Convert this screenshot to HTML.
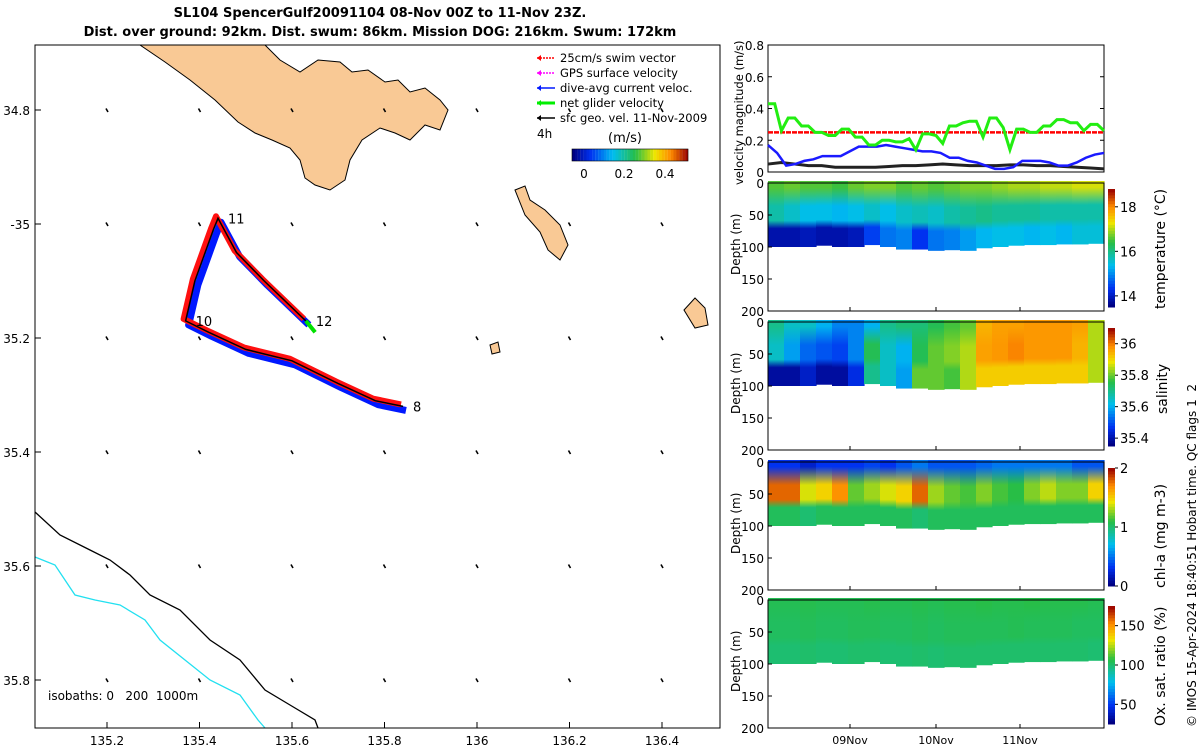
<!DOCTYPE html>
<html><head><meta charset="utf-8"><style>
body{margin:0;background:#fff;width:1200px;height:750px;overflow:hidden;font-family:"Liberation Sans","DejaVu Sans",sans-serif}
svg text{font-family:"DejaVu Sans","Liberation Sans",sans-serif;white-space:pre}
</style></head><body>
<svg id="fig" width="1200" height="750" xmlns="http://www.w3.org/2000/svg">
<text x="380" y="17" font-size="13" font-weight="bold" text-anchor="middle">SL104 SpencerGulf20091104 08-Nov 00Z to 11-Nov 23Z.</text>
<text x="380" y="36" font-size="13" font-weight="bold" text-anchor="middle">Dist. over ground: 92km. Dist. swum: 86km. Mission DOG: 216km. Swum: 172km</text>
<g id="map"></g>
<g id="vel"></g>
<g id="sec"></g>
<text transform="translate(1196,727) rotate(-90)" font-size="12">© IMOS 15-Apr-2024 18:40:51 Hobart time. QC flags 1  2</text>
</svg>
<script>
const NS="http://www.w3.org/2000/svg";
function el(p,t,a){const e=document.createElementNS(NS,t);for(const k in a)e.setAttribute(k,a[k]);p.appendChild(e);return e;}
function tx(p,x,y,s,o){const e=el(p,'text',Object.assign({x:x,y:y,'font-size':12},o||{}));e.textContent=s;return e;}
const CM=[[0,0,0,130],[0.15,0,50,240],[0.35,0,190,240],[0.55,40,190,70],[0.72,240,230,0],[0.86,255,140,0],[1,160,10,0]];
function cmap(v){v=Math.max(0,Math.min(1,v));for(let i=1;i<CM.length;i++){if(v<=CM[i][0]){const a=CM[i-1],b=CM[i],f=(v-a[0])/(b[0]-a[0]);return `rgb(${(a[1]+f*(b[1]-a[1]))|0},${(a[2]+f*(b[2]-a[2]))|0},${(a[3]+f*(b[3]-a[3]))|0})`;}}return 'rgb(160,10,0)';}

/* ---------- MAP ---------- */
const lonTicks=[135.2,135.4,135.6,135.8,136,136.2,136.4];
const latTicks=[-34.8,-35,-35.2,-35.4,-35.6,-35.8];
const latLabels=["34.8","-35","35.2","35.4","35.6","35.8"];
const track=[[135.84,-35.32],[135.78,-35.31],[135.7,-35.28],[135.6,-35.24],[135.5,-35.22],[135.42,-35.19],[135.37,-35.17],[135.39,-35.1],[135.43,-35.01],[135.44,-34.99],[135.48,-35.05],[135.54,-35.1],[135.63,-35.17]];
const trackLabels=[["8",135.84,-35.32],["11",135.44,-34.99],["12",135.63,-35.17],["10",135.37,-35.17]];
const mx=l=>107+(l-135.2)/0.2*92.5, my=l=>110+(-l-34.8)/0.2*114;
const map=document.getElementById('map');
el(map,'rect',{x:35,y:45,width:685,height:683,fill:'#fff',stroke:'none'});
el(map,'path',{d:'M140,45 L265,45 L280,60 L300,72 L318,60 L340,62 L352,72 L368,70 L385,82 L398,80 L410,92 L425,88 L440,100 L448,110 L440,130 L425,125 L410,140 L395,133 L380,128 L362,140 L350,160 L345,180 L330,190 L315,185 L305,178 L300,160 L290,148 L272,140 L255,133 L238,122 L215,100 L190,80 L165,62 Z',fill:'#f9c995',stroke:'#000','stroke-width':1,});
el(map,'path',{d:'M515,190 L525,186 L530,200 L545,210 L560,225 L568,245 L560,260 L548,250 L540,232 L525,215 Z',fill:'#f9c995',stroke:'#000','stroke-width':1,});
el(map,'path',{d:'M684,310 L695,298 L705,308 L708,325 L695,328 Z',fill:'#f9c995',stroke:'#000','stroke-width':1,});
el(map,'path',{d:'M490,345 L498,342 L500,352 L492,354 Z',fill:'#f9c995',stroke:'#000','stroke-width':1});
el(map,'path',{d:'M35,512 L60,535 L90,550 L110,560 L130,575 L150,595 L180,610 L210,640 L240,660 L265,690 L290,705 L315,720 L318,728',fill:'none',stroke:'#000','stroke-width':1.3,});
el(map,'path',{d:'M35,557 L55,565 L75,595 L95,600 L120,605 L145,620 L160,640 L185,660 L210,680 L240,695 L258,720 L265,728',fill:'none',stroke:'#22e0f0','stroke-width':1.3,});
lonTicks.forEach(lo=>latTicks.forEach(la=>{const q=el(map,'line',{x1:mx(lo)-1,y1:my(la)-1.5,x2:mx(lo)+1,y2:my(la)+2,stroke:'#000','stroke-width':1.6});}));
const tp=track.map(p=>mx(p[0])+','+my(p[1])).join(' ');
el(map,'polyline',{points:track.map(p=>(mx(p[0])+3)+','+(my(p[1])+4)).join(' '),fill:'none',stroke:'#0018ff','stroke-width':7,'stroke-linejoin':'round',});
el(map,'polyline',{points:track.map(p=>(mx(p[0])-2)+','+(my(p[1])-2)).join(' '),fill:'none',stroke:'#ff1010','stroke-width':6,'stroke-linejoin':'round',});
el(map,'polyline',{points:tp,fill:'none',stroke:'#000','stroke-width':1.5,});
el(map,'line',{x1:mx(135.63),y1:my(-35.17),x2:mx(135.65),y2:my(-35.19),stroke:'#00e000','stroke-width':4});
trackLabels.forEach(t=>tx(map,mx(t[1])+10,my(t[2])+5,t[0],{'font-size':13}));
el(map,'rect',{x:35,y:45,width:685,height:683,fill:'none',stroke:'#000','stroke-width':1,});
lonTicks.forEach(l=>{el(map,'line',{x1:mx(l),y1:728,x2:mx(l),y2:722,stroke:'#000'});tx(map,mx(l),745,String(l),{'text-anchor':'middle'});});
latTicks.forEach((l,i)=>{el(map,'line',{x1:35,y1:my(l),x2:41,y2:my(l),stroke:'#000'});tx(map,30,my(l)+5,latLabels[i],{'text-anchor':'end'});});
tx(map,48,700,'isobaths: 0   200  1000m',{'font-size':12,});
const legItems=[["25cm/s swim vector","#ff0000"],["GPS surface velocity","#ff00ff"],["dive-avg current veloc.","#0018ff"],["net glider velocity","#00ee00"],["sfc geo. vel. 11-Nov-2009","#000"]];
legItems.forEach((it,i)=>{const y=62+i*15;const g=el(map,'g',{});
el(g,'line',{x1:537,y1:y-4,x2:555,y2:y-4,stroke:it[1],'stroke-width':i==3?3:1.5,'stroke-dasharray':i<2?'2 1':'none'});el(g,'path',{d:`M537,${y-4} l4,-3 l0,6z`,fill:it[1]});tx(g,560,y,it[0],{'font-size':11.5});});
tx(map,537,138,'4h',{'font-size':12});tx(map,608,142,'(m/s)',{'font-size':13});
for(let i=0;i<40;i++)el(map,'rect',{x:572+i*2.9,y:149,width:3,height:12,fill:cmap(i/39)});
el(map,'rect',{x:572,y:149,width:116,height:12,fill:'none',stroke:'#000','stroke-width':0.6,});
[[0,584],[0.2,624],[0.4,665]].forEach(t=>tx(map,t[1],178,String(t[0]),{'text-anchor':'middle'}));

/* ---------- VELOCITY ---------- */
const velGreen=[0.43,0.43,0.26,0.34,0.34,0.29,0.29,0.25,0.25,0.23,0.23,0.27,0.27,0.22,0.22,0.17,0.17,0.2,0.2,0.19,0.19,0.21,0.14,0.24,0.24,0.23,0.18,0.29,0.29,0.31,0.32,0.32,0.22,0.34,0.34,0.28,0.14,0.27,0.27,0.25,0.25,0.29,0.29,0.33,0.33,0.31,0.31,0.26,0.3,0.3,0.26];
const velBlue=[0.17,0.12,0.04,0.05,0.07,0.08,0.1,0.1,0.1,0.13,0.16,0.16,0.16,0.17,0.16,0.15,0.14,0.13,0.13,0.12,0.09,0.09,0.07,0.06,0.04,0.02,0.02,0.03,0.07,0.07,0.07,0.06,0.04,0.04,0.06,0.09,0.11,0.12];
const velBlack=[0.05,0.06,0.05,0.04,0.04,0.03,0.03,0.03,0.03,0.035,0.04,0.04,0.045,0.05,0.045,0.04,0.04,0.04,0.045,0.045,0.04,0.04,0.035,0.03,0.025,0.02];
const velRed=[0.25,0.25];
const velTicks=[0,0.2,0.4,0.6,0.8];
const V=document.getElementById('vel');const vx0=768,vx1=1104,vy=v=>172-v/0.8*127;
el(V,'rect',{x:vx0,y:45,width:vx1-vx0,height:127,fill:'#fff',stroke:'#000',});
function series(arr,col,w,name,dash){const pts=arr.map((v,i)=>(vx0+i*(vx1-vx0)/(arr.length-1))+','+vy(v)).join(' ');const p=el(V,'polyline',{points:pts,fill:'none',stroke:col,'stroke-width':w});if(dash)p.setAttribute('stroke-dasharray',dash);}
series(velRed,'#ff0000',2.5,'swim-speed-line','5 1');
series(velBlack,'#222',3,'sfc-geo-velocity-line');
series(velBlue,'#1a1aff',2.5,'dive-avg-current-line');
series(velGreen,'#22ee11',3,'net-glider-velocity-line');
velTicks.forEach(t=>{el(V,'line',{x1:vx0,y1:vy(t),x2:vx0+4,y2:vy(t),stroke:'#000'});el(V,'line',{x1:vx1,y1:vy(t),x2:vx1-4,y2:vy(t),stroke:'#000'});tx(V,764,vy(t)+5,String(t),{'text-anchor':'end'});});
tx(V,0,0,'velocity magnitude (m/s)',{transform:'translate(743,185) rotate(-90)','font-size':11.5,});

/* ---------- SECTIONS ---------- */
const dateTicks=["09Nov","10Nov","11Nov"];
const dateTickX=[850,936,1020];
const depthTicks=[0,50,100,150,200];
const bottomDepth=[100,100,100,98,100,100,97,100,104,104,106,105,106,102,100,98,97,97,96,96,95];
const tempSurf=[16.6,16.7,16.6,16.6,16.5,16.7,16.8,16.8,16.6,16.7,16.6,16.7,16.8,16.8,16.9,17,17,17.1,17.1,17.2,17.2];
const tempMid=[15.8,15.6,15.4,15.4,15.3,15.4,15.6,15.4,15.6,15.7,15.6,15.8,15.9,16,15.9,15.9,15.9,15.8,15.8,15.8,15.8];
const tempDeep=[13.8,13.8,13.9,13.8,13.8,13.9,14.4,14.8,14.9,14.3,14.8,14.9,15.1,15.3,15.4,15.4,15.3,15.4,15.3,15.5,15.5];
const salSurf=[35.7,35.65,35.65,35.6,35.55,35.55,35.6,35.7,35.72,35.72,35.75,35.78,35.8,35.95,35.97,35.97,35.98,35.98,35.98,35.97,35.85];
const salMid=[35.65,35.58,35.52,35.5,35.48,35.55,35.75,35.65,35.6,35.75,35.8,35.82,35.85,35.97,35.98,36,35.98,35.98,35.98,35.95,35.85];
const salDeep=[35.38,35.38,35.42,35.38,35.38,35.45,35.7,35.65,35.58,35.8,35.8,35.78,35.85,35.92,35.92,35.92,35.92,35.92,35.92,35.92,35.85];
const chlSurf=[0.3,0.3,0.2,0.3,0.3,0.3,0.35,0.3,0.4,0.5,0.4,0.4,0.4,0.45,0.5,0.5,0.5,0.5,0.5,0.4,0.4];
const chlMid=[1.8,1.8,1.4,1.5,1.7,1.2,1.3,1.4,1.5,1.8,1.3,1.2,1.15,1.25,1.15,1.1,1.25,1.35,1.25,1.25,1.5];
const chlDeep=[1.05,1.05,1,1.05,1.05,1.05,1.05,1.05,1.05,1,1.05,1.05,1.05,1.05,1.05,1.05,1.05,1.05,1.05,1.05,1.05];
const oxSurf=[105,105,106,105,105,105,106,105,105,106,105,106,106,107,106,106,107,106,106,106,105];
const oxMid=[103,103,104,103,103,104,104,103,103,104,103,104,104,104,104,105,104,104,104,103,103];
const oxDeep=[100,100,101,100,100,101,101,100,100,101,100,101,101,101,101,101,101,101,101,101,100];
const panels=[
 {y0:183,surf:tempSurf,mid:tempMid,deep:tempDeep,lo:13.5,hi:18.8,cb:[[14,'14'],[16,'16'],[18,'18']],label:'temperature (°C)',name:'temperature'},
 {y0:322,surf:salSurf,mid:salMid,deep:salDeep,lo:35.35,hi:36.1,cb:[[35.4,'35.4'],[35.6,'35.6'],[35.8,'35.8'],[36,'36']],label:'salinity',name:'salinity'},
 {y0:462,surf:chlSurf,mid:chlMid,deep:chlDeep,lo:0,hi:2,cb:[[0,'0'],[1,'1'],[2,'2']],label:'chl-a (mg m-3)',name:'chlorophyll'},
 {y0:600,surf:oxSurf,mid:oxMid,deep:oxDeep,lo:25,hi:175,cb:[[50,'50'],[100,'100'],[150,'150']],label:'Ox. sat. ratio (%)',name:'oxygen'}];
const S=document.getElementById('sec');const sx0=768,sx1=1104,H=128;
panels.forEach((P,pi)=>{
 const g=el(S,'g',{});
 const dy=d=>P.y0+d/200*H;const n=P.surf.length,w=(sx1-sx0)/n;const nrm=v=>(v-P.lo)/(P.hi-P.lo);
 const defs=el(g,'defs',{});
 for(let i=0;i<n;i++){
  const id='gr'+pi+'_'+i;const lg=el(defs,'linearGradient',{id:id,x1:0,y1:0,x2:0,y2:1});
  el(lg,'stop',{offset:'0','stop-color':cmap(nrm(P.surf[i]))});el(lg,'stop',{offset:'0.1','stop-color':cmap(nrm(P.surf[i]))});
  el(lg,'stop',{offset:'0.38','stop-color':cmap(nrm(P.mid[i]))});el(lg,'stop',{offset:'0.6','stop-color':cmap(nrm(P.mid[i]))});
  el(lg,'stop',{offset:'0.72','stop-color':cmap(nrm(P.deep[i]))});el(lg,'stop',{offset:'1','stop-color':cmap(nrm(P.deep[i]))});
  const r=el(g,'rect',{x:sx0+i*w,y:dy(0)-2,width:w+0.6,height:dy(bottomDepth[i])-dy(0)+2,fill:`url(#${id})`});
  
 }
 el(g,'rect',{x:sx0,y:P.y0,width:sx1-sx0,height:H,fill:'none',stroke:'#000'});
 depthTicks.forEach(d=>{el(g,'line',{x1:sx0,y1:dy(d),x2:sx0+4,y2:dy(d),stroke:'#000'});tx(g,764,dy(d)+5,String(d),{'text-anchor':'end'});});
 dateTickX.forEach(x=>{el(g,'line',{x1:x,y1:P.y0+H,x2:x,y2:P.y0+H-4,stroke:'#000'});});
 tx(g,0,0,'Depth (m)',{transform:`translate(740,${P.y0+92}) rotate(-90)`});
 const cb=el(g,'g',{});
 const cy0=P.y0+6,ch=H-10;
 for(let k=0;k<40;k++)el(cb,'rect',{x:1108,y:cy0+ch-(k+1)*ch/40,width:7,height:ch/40+0.5,fill:cmap(k/39)});
 P.cb.forEach(t=>{const y=cy0+ch-nrm(t[0])*ch;el(cb,'line',{x1:1115,y1:y,x2:1118,y2:y,stroke:'#000'});tx(cb,1120,y+5,t[1],{'font-size':13});});
 tx(g,0,0,P.label,{transform:`translate(${pi==1?1167:1165},${P.y0+(pi==1?92:H-2)}) rotate(-90)`,'font-size':14});
});
dateTicks.forEach((d,i)=>tx(S,dateTickX[i],744,d,{'text-anchor':'middle','font-size':11}));
</script>
</body></html>
